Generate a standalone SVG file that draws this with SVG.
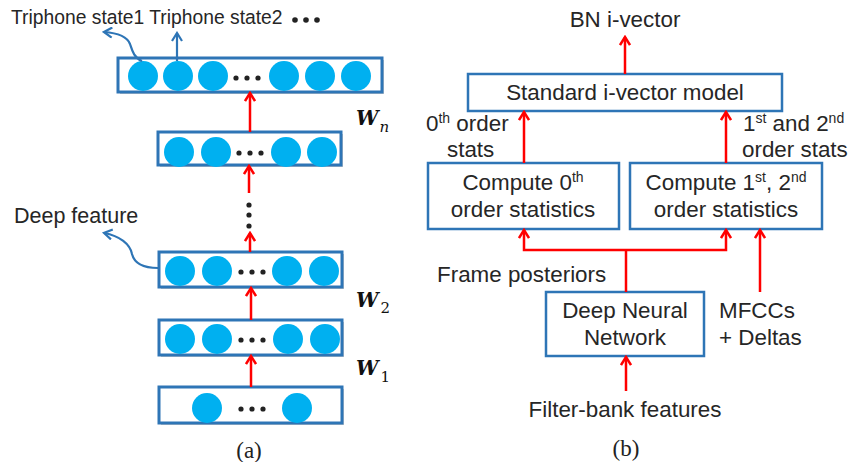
<svg xmlns="http://www.w3.org/2000/svg" width="848" height="462" viewBox="0 0 848 462">
<defs>
<style>
.lay{fill:#fff;stroke:#2E75B6;stroke-width:3}
.shd{fill:#c8c8c8}
.c{fill:#00B0F0}
.d{fill:#222}
.box{fill:#fff;stroke:#2E75B6;stroke-width:2.5}
.r{fill:none;stroke:#FF0000;stroke-width:2.5}
.b{fill:none;stroke:#2E75B6;stroke-width:2.2}
.t{font-family:"Liberation Sans",Arial,sans-serif;fill:#262626}
.tl{font-size:19.3px}
.tr{font-size:22.4px}
.w{font-family:"DejaVu Serif","Liberation Serif",serif;font-weight:bold;font-style:italic;font-size:20px;fill:#111}
.ws{font-family:"DejaVu Serif","Liberation Serif",serif;font-size:15px;fill:#111}
.cap{font-family:"Liberation Serif","Times New Roman",serif;font-size:23px;fill:#222}
</style>
<marker id="ar" viewBox="0 0 12 12" refX="10" refY="6" markerWidth="12" markerHeight="12" markerUnits="userSpaceOnUse" orient="auto">
<path d="M2,1 L10,6 L2,11" fill="none" stroke="#FF0000" stroke-width="2.5"/>
</marker>
<marker id="ab" viewBox="0 0 12 12" refX="10" refY="6" markerWidth="12" markerHeight="12" markerUnits="userSpaceOnUse" orient="auto">
<path d="M2,1 L10,6 L2,11" fill="none" stroke="#2E75B6" stroke-width="2.2"/>
</marker>
</defs>

<!-- Panel (a) -->
<g id="layer-out">
<rect class="shd" x="120" y="60" width="264" height="34"/>
<rect class="lay" x="118" y="58" width="264" height="34"/>
<circle class="c" cx="143" cy="76" r="15"/>
<circle class="c" cx="178" cy="76" r="15"/>
<circle class="c" cx="213" cy="76" r="15"/>
<circle class="d" cx="236" cy="78" r="2.6"/>
<circle class="d" cx="247" cy="78" r="2.6"/>
<circle class="d" cx="258" cy="78" r="2.6"/>
<circle class="c" cx="284" cy="76" r="15"/>
<circle class="c" cx="320" cy="76" r="15"/>
<circle class="c" cx="356" cy="76" r="15"/>
</g>
<g id="layer-n">
<rect class="shd" x="160" y="134" width="183" height="33"/>
<rect class="lay" x="158" y="132" width="183" height="33"/>
<circle class="c" cx="179" cy="152" r="15"/>
<circle class="c" cx="216" cy="152" r="15"/>
<circle class="d" cx="239" cy="153" r="2.6"/>
<circle class="d" cx="250" cy="153" r="2.6"/>
<circle class="d" cx="261" cy="153" r="2.6"/>
<circle class="c" cx="286" cy="152" r="15"/>
<circle class="c" cx="322" cy="152" r="15"/>
</g>
<g id="layer-deep">
<rect class="shd" x="161" y="254" width="183" height="35"/>
<rect class="lay" x="159" y="252" width="183" height="35"/>
<circle class="c" cx="180" cy="271" r="15"/>
<circle class="c" cx="217" cy="271" r="15"/>
<circle class="d" cx="241" cy="272" r="2.6"/>
<circle class="d" cx="252" cy="272" r="2.6"/>
<circle class="d" cx="263" cy="272" r="2.6"/>
<circle class="c" cx="287" cy="271" r="15"/>
<circle class="c" cx="324" cy="271" r="15"/>
</g>
<g id="layer-2">
<rect class="shd" x="161" y="322" width="183" height="35"/>
<rect class="lay" x="159" y="320" width="183" height="35"/>
<circle class="c" cx="180" cy="339" r="15"/>
<circle class="c" cx="217" cy="339" r="15"/>
<circle class="d" cx="241" cy="340" r="2.6"/>
<circle class="d" cx="252" cy="340" r="2.6"/>
<circle class="d" cx="263" cy="340" r="2.6"/>
<circle class="c" cx="288" cy="339" r="15"/>
<circle class="c" cx="325" cy="339" r="15"/>
</g>
<g id="layer-in">
<rect class="shd" x="161" y="389" width="183" height="36"/>
<rect class="lay" x="159" y="387" width="183" height="36"/>
<circle class="c" cx="207" cy="408" r="15"/>
<circle class="d" cx="241" cy="409" r="2.6"/>
<circle class="d" cx="252" cy="409" r="2.6"/>
<circle class="d" cx="263" cy="409" r="2.6"/>
<circle class="c" cx="297" cy="408" r="15"/>
</g>
<g id="labels-a">
<text class="t tl" x="11" y="24">Triphone state1 Triphone state2</text>
<circle class="d" cx="295" cy="20" r="2.8"/>
<circle class="d" cx="306" cy="20" r="2.8"/>
<circle class="d" cx="317" cy="20" r="2.8"/>
<text class="t" style="font-size:21.5px" x="14" y="223">Deep feature</text>
<circle class="d" cx="249" cy="205" r="2.6"/>
<circle class="d" cx="249" cy="215" r="2.6"/>
<circle class="d" cx="249" cy="226" r="2.6"/>
<text x="356" y="125"><tspan class="w">W</tspan><tspan class="ws" font-style="italic" dx="1" dy="7">n</tspan></text>
<text x="356" y="307"><tspan class="w">W</tspan><tspan class="ws" dx="2" dy="6">2</tspan></text>
<text x="356" y="375"><tspan class="w">W</tspan><tspan class="ws" dx="2" dy="7">1</tspan></text>
<text class="cap" x="249" y="458" text-anchor="middle">(a)</text>
</g>

<!-- Panel (b) -->
<g id="bn-ivector"><text class="t tr" x="625" y="27" text-anchor="middle">BN i-vector</text></g>
<g id="standard">
<rect class="box" x="468" y="74" width="314" height="37"/>
<text class="t tr" x="625" y="100" text-anchor="middle">Standard i-vector model</text>
</g>
<g id="compute0">
<rect class="box" x="428" y="163" width="191" height="66"/>
<text class="t tr" x="523" y="190" text-anchor="middle">Compute 0<tspan font-size="14" dy="-8">th</tspan></text>
<text class="t tr" x="523" y="217" text-anchor="middle">order statistics</text>
</g>
<g id="compute12">
<rect class="box" x="630" y="163" width="192" height="66"/>
<text class="t tr" x="726" y="190" text-anchor="middle">Compute 1<tspan font-size="14" dy="-8">st</tspan><tspan dy="8">, 2</tspan><tspan font-size="14" dy="-8">nd</tspan></text>
<text class="t tr" x="726" y="217" text-anchor="middle">order statistics</text>
</g>
<g id="dnn">
<rect class="box" x="546" y="292" width="158" height="64"/>
<text class="t tr" x="625" y="318" text-anchor="middle">Deep Neural</text>
<text class="t tr" x="625" y="345" text-anchor="middle">Network</text>
</g>
<g id="labels-b">
<text class="t tr" x="426" y="131">0<tspan font-size="14" dy="-8">th</tspan><tspan dy="8"> order</tspan></text>
<text class="t tr" x="447" y="157">stats</text>
<text class="t tr" x="743" y="131">1<tspan font-size="14" dy="-8">st</tspan><tspan dy="8"> and 2</tspan><tspan font-size="14" dy="-8">nd</tspan></text>
<text class="t tr" x="742" y="157">order stats</text>
<text class="t tr" x="437" y="282">Frame posteriors</text>
<text class="t tr" x="719" y="318">MFCCs</text>
<text class="t tr" x="719" y="345">+ Deltas</text>
<text class="t tr" x="625" y="417" text-anchor="middle">Filter-bank features</text>
<text class="cap" x="626" y="456" text-anchor="middle">(b)</text>
</g>

<g id="connectors">
<!-- panel a -->
<path class="b" d="M142,61 C134,58 132,50 130,44 C127,36 118,33 104,32" marker-end="url(#ab)"/>
<line class="b" x1="177" y1="61" x2="177" y2="33" marker-end="url(#ab)"/>
<path class="b" d="M158,268 C140,268 134,262 132,254 C130,244 120,236 104,233" marker-end="url(#ab)"/>
<line class="r" x1="250" y1="132" x2="250" y2="93" marker-end="url(#ar)"/>
<line class="r" x1="249" y1="193" x2="249" y2="166" marker-end="url(#ar)"/>
<line class="r" x1="250" y1="252" x2="250" y2="233" marker-end="url(#ar)"/>
<line class="r" x1="251" y1="320" x2="251" y2="288" marker-end="url(#ar)"/>
<line class="r" x1="251" y1="387" x2="251" y2="356" marker-end="url(#ar)"/>
<!-- panel b -->
<line class="r" x1="625" y1="74" x2="625" y2="37" marker-end="url(#ar)"/>
<line class="r" x1="524" y1="163" x2="524" y2="112" marker-end="url(#ar)"/>
<line class="r" x1="726" y1="163" x2="726" y2="112" marker-end="url(#ar)"/>
<line class="r" x1="626" y1="292" x2="626" y2="250"/>
<path class="r" d="M626,250 H524 V230" marker-end="url(#ar)"/>
<path class="r" d="M626,250 H726 V230" marker-end="url(#ar)"/>
<line class="r" x1="760" y1="292" x2="760" y2="230" marker-end="url(#ar)"/>
<line class="r" x1="626" y1="391" x2="626" y2="357" marker-end="url(#ar)"/>
</g>
</svg>
